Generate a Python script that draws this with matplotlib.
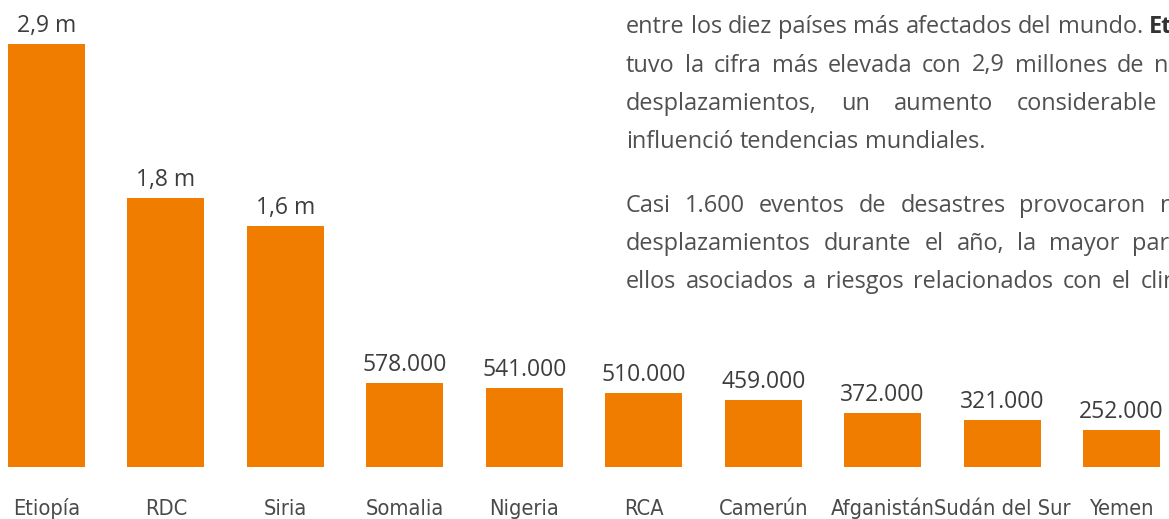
import matplotlib
matplotlib.use("Agg")
import matplotlib.pyplot as plt

countries = ["Etiopía", "RDC", "Siria", "Somalia", "Nigeria", "RCA",
             "Camerún", "Afganistán", "Sudán del Sur", "Yemen"]
# new displacements, millions
values = [2.9, 1.84, 1.65, 0.578, 0.541, 0.510, 0.459, 0.372, 0.321, 0.252]
value_labels = ["2,9 m", "1,8 m", "1,6 m", "578.000", "541.000", "510.000",
                "459.000", "372.000", "321.000", "252.000"]

para_lines = [
    "entre los diez países más afectados del mundo. Etiopía",
    "tuvo la cifra más elevada con 2,9 millones de nuevos",
    "desplazamientos, un aumento considerable que",
    "influenció tendencias mundiales.",
    "Casi 1.600 eventos de desastres provocaron nuevos",
    "desplazamientos durante el año, la mayor parte de",
    "ellos asociados a riesgos relacionados con el clima.",
]
bold_words = {"Etiopía"}

ORANGE = "#F07D00"
W, H = 1169, 519

fig = plt.figure(figsize=(W / 100, H / 100), dpi=100)
ax = fig.add_axes([0, 0, 1, 1])

px_per_unit = 146.0   # px per million
base_px = 52          # bar baseline, px from bottom
step = 119.45         # px between bar centres
x0 = 46.5             # first bar centre, px

ax.bar(range(len(values)), values, width=0.645, color=ORANGE)
ax.set_xlim(-x0 / step, (W - x0) / step)
ax.set_ylim(-base_px / px_per_unit, (H - base_px) / px_per_unit)
ax.axis("off")

renderer = fig.canvas.get_renderer()


def text_width(s, **kw):
    t = fig.text(0, 0, s, **kw)
    w = t.get_window_extent(renderer).width
    t.remove()
    return w


for i, (v, lab) in enumerate(zip(values, value_labels)):
    ax.annotate(lab, (i, v), xytext=(0, 12), textcoords="offset pixels",
                ha="center", va="baseline", fontsize=16.5,
                family="Open Sans", color="#3d3d3d")

# category labels: narrow face, sized so "Afganistán" is ~106 px wide
ckw = dict(family="DejaVu Sans", fontstretch="condensed",
           fontweight="light", color="#4a4a4a")
cfs = 10 * 104 / text_width("Afganistán", fontsize=10, **ckw)
for i, name in enumerate(countries):
    ax.text(i, (4 - base_px) / px_per_unit, name, ha="center",
            va="baseline", fontsize=cfs, **ckw)

# paragraph, drawn word by word so spacing can be justified
probe = "entre los diez países más afectados del mundo."
fs = 10 * 517 / text_width(probe, fontsize=10, family="Open Sans")
pkw = dict(fontsize=fs, family="Open Sans", color="#505050", va="baseline")
space = text_width("a a", **pkw) - text_width("aa", **pkw)

baselines = [33, 71.5, 110, 148, 212, 250, 288]
gaps = [None, 10, 24, None, 14, 13, 9.5]

for line, yb, gap in zip(para_lines, baselines, gaps):
    x = 626
    g = space if gap is None else gap
    for word in line.split(" "):
        kw = dict(pkw)
        if word in bold_words:
            kw["fontweight"] = "bold"
            kw["color"] = "#333333"
        fig.text(x / W, 1 - yb / H, word, **kw)
        x += text_width(word, **kw) + g

fig.savefig("out.png", dpi=100)
